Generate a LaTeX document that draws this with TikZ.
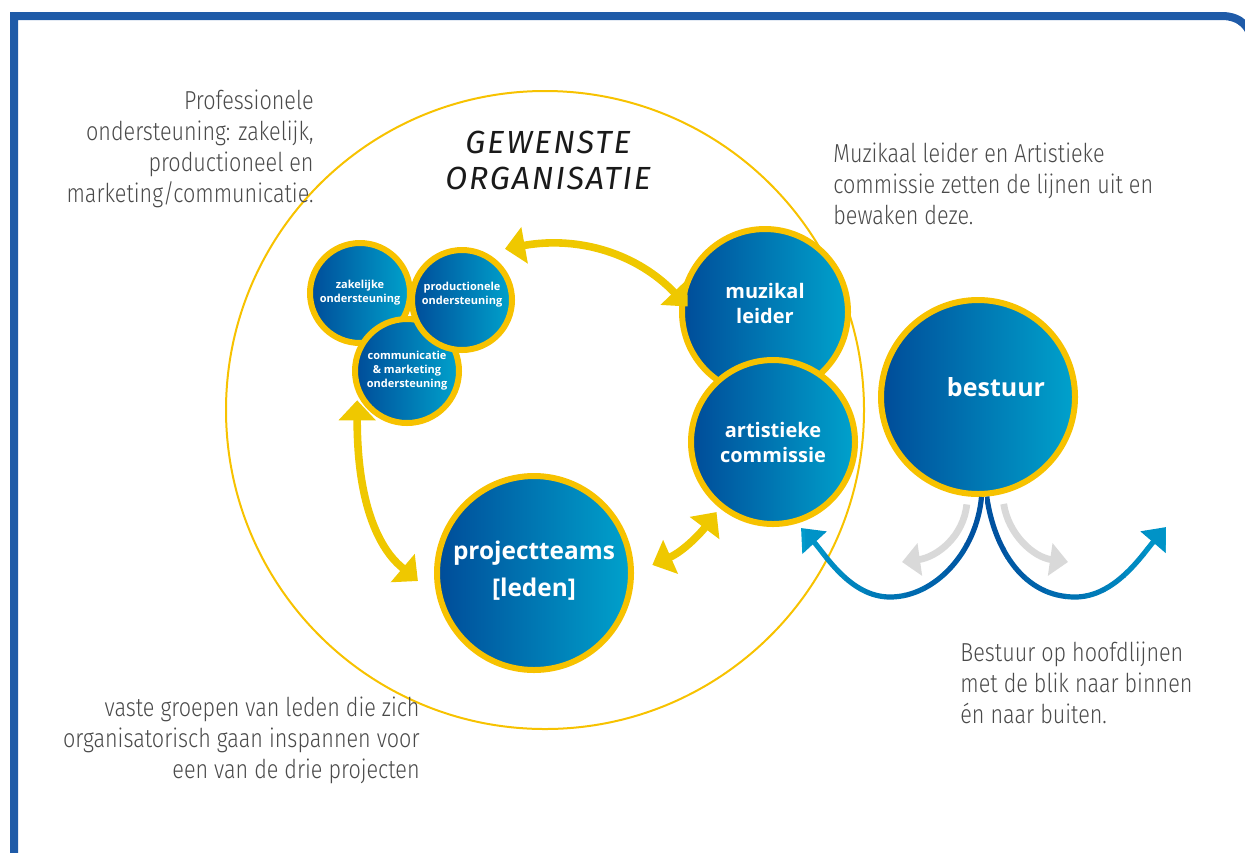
\documentclass[tikz,border=0pt]{standalone}
\usepackage{fontspec}
\usetikzlibrary{arrows.meta}
\newfontfamily\notefont{Fira Sans Light}[FakeStretch=0.83]
\newfontfamily\bolfont{Open Sans}
\newfontfamily\titelfont{Fira Sans}[LetterSpace=6]
\definecolor{frameblue}{HTML}{1F5BA8}
\definecolor{ringyellow}{HTML}{F7C200}
\definecolor{arrowyellow}{HTML}{EFC800}
\definecolor{circdark}{HTML}{004C99}
\definecolor{circlight}{HTML}{00A2CC}
\definecolor{notegray}{HTML}{4A4A4A}
\definecolor{titelblack}{HTML}{1A1A1A}
\definecolor{bluedark}{HTML}{0052A0}
\definecolor{bluelight}{HTML}{009CCC}
\definecolor{softgray}{HTML}{D9D9D9}

\begin{document}
\begin{tikzpicture}[x=0.5pt,y=-0.5pt,
  bol/.style 2 args={circle,draw=ringyellow,line width=3pt,left color=circdark,
    right color=circlight,text=white,align=center,inner sep=0pt,
    font=\bolfont\bfseries\fontsize{#1}{#2}\selectfont},
  note/.style={font=\notefont\fontsize{13}{15.5}\selectfont,text=notegray,inner sep=0pt},
  yarrow/.style={draw=arrowyellow,line width=3.8pt,
    {Triangle[length=10pt,width=18pt]}-{Triangle[length=10pt,width=18pt]}},
  bluearc/.style={line width=2.6pt,-{Triangle[length=10pt,width=16pt]}},
  grayarc/.style={draw=softgray,line width=3.4pt,-{Triangle[length=9pt,width=16pt]}}]
\useasboundingbox (0,0) rectangle (1245,852);
% \draw[help lines,step=50] (0,0) grid (1245,852);
\draw[frameblue,line width=4pt] (14,870) -- (14,16) -- (1222,16)
  .. controls (1240,16) and (1252,27) .. (1252,45) -- (1252,870);
% gewenste organisatie
\draw[ringyellow,line width=1pt] (545,410) circle [radius=319];
\node[font=\titelfont\itshape\fontsize{16}{18}\selectfont,text=titelblack,
  align=center,anchor=north] (titel) at (548,124) {GEWENSTE\\ORGANISATIE};
\node[bol={5.5}{7}, minimum size=50pt] (zak) at (360,293) {zakelijke\\ondersteuning};
\node[bol={5.5}{7}, minimum size=52pt] (comm) at (407,371) {communicatie\\\& marketing\\ondersteuning};
\node[bol={5.5}{7}, minimum size=50pt] (prod) at (462,300) {productionele\\ondersteuning\\[0pt]{}};
\node[bol={10}{12.5}, minimum size=83pt] (muz) at (765,312) {muzikal\\leider\\[-4pt]{}};
\node[bol={10}{12.5}, minimum size=82pt] (art) at (773,442) {artistieke\\commissie};
\node[bol={12.2}{18.5}, minimum size=97pt] (proj) at (534,573) {projectteams\\{[leden]}\\[-14pt]{}};
\node[bol={12.5}{14}, minimum size=97pt] (best) at (978,397) {\hspace*{18pt}bestuur\\[-4pt]{}};
% pijlen
\draw[yarrow,shorten <=10pt,shorten >=-5.5pt] (prod.64) .. controls +(95,-17) and +(-42,-44) .. (muz.171);
\draw[yarrow,shorten <=3pt,shorten >=12.5pt] (comm.205) .. controls +(0,140) and +(-40,-34) .. (proj.194);
\draw[yarrow,shorten <=10pt,shorten >=2.5pt] (proj.0) .. controls +(50,-22) and +(-18,24) .. (art.231);
% bestuur
\coordinate (lbot) at (890,597);
\coordinate (ltip) at (801,528);
\coordinate (rbot) at (1075,597);
\coordinate (rtip) at (1166,527);
\coordinate (gltip) at (902,562);
\coordinate (grtip) at (1068,562);
\draw[grayarc,shorten <=4pt] (best.264) .. controls +(-4,40) and +(35,-5) .. (gltip);
\draw[grayarc,shorten <=5pt] (best.284) .. controls +(6,40) and +(-35,-5) .. (grtip);
\foreach \i in {0,...,9}{
  \pgfmathtruncatemacro\mix{100-\i*11}
  \begin{scope}
    \clip (964.5-20*\i,470) rectangle (985-20*\i,640);
    \draw[bluearc,draw=bluedark!\mix!bluelight] (best.272) .. controls +(-5,55) and +(45,0) .. (lbot)
      .. controls +(-40,0) and +(24,26) .. (ltip);
  \end{scope}
  \begin{scope}
    \clip (985+20*\i,470) rectangle (1005.5+20*\i,640);
    \draw[bluearc,draw=bluedark!\mix!bluelight] (best.275) .. controls +(8,55) and +(-50,0) .. (rbot)
      .. controls +(40,0) and +(-24,28) .. (rtip);
  \end{scope}
}
% teksten
\node[note,anchor=north east,align=right] (profnote) at (314,90)
  {Professionele\\ondersteuning: zakelijk,\\productioneel en\\marketing/communicatie.};
\node[note,anchor=north west,align=left] (muznote) at (833,143)
  {Muzikaal leider en Artistieke\\commissie zetten de lijnen uit en\\bewaken deze.};
\node[note,anchor=north west,align=left] (bestnote) at (960,642)
  {Bestuur op hoofdlijnen\\met de blik naar binnen\\én naar buiten.};
\node[note,anchor=north east,align=right] (ledennote) at (420,697)
  {vaste groepen van leden die zich\\organisatorisch gaan inspannen voor\\een van de drie projecten};
\end{tikzpicture}
\end{document}
